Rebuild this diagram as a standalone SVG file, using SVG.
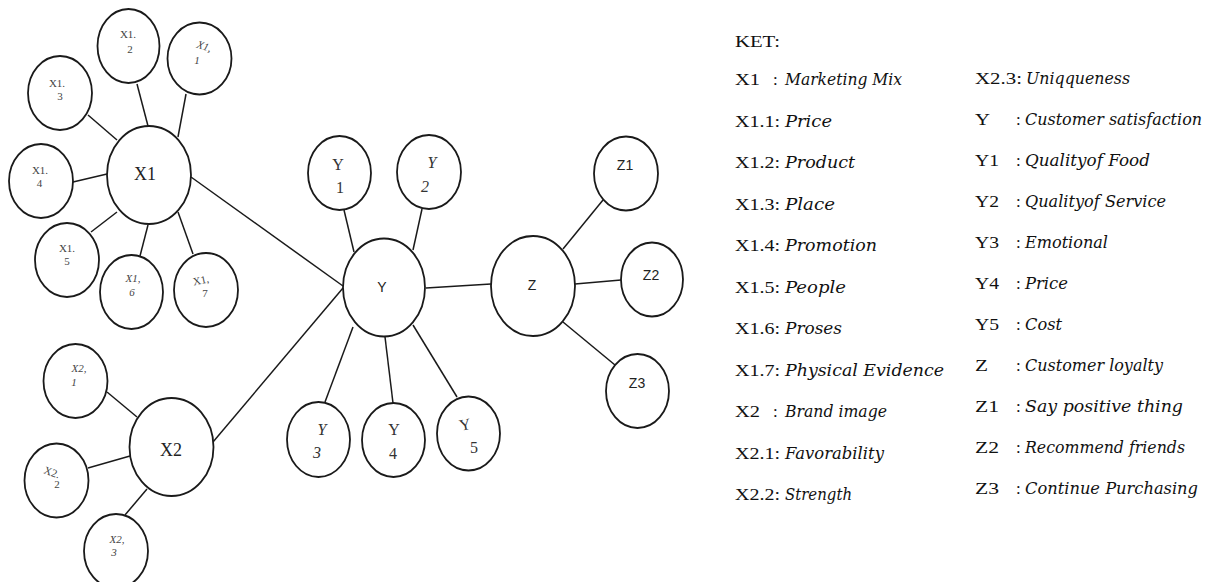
<svg xmlns="http://www.w3.org/2000/svg" width="1212" height="582" viewBox="0 0 1212 582">
<style>
.n{fill:#fff;stroke:#1a1a1a;stroke-width:1.8}
.c line{stroke:#1a1a1a;stroke-width:1.5}
.s{font-family:"Liberation Serif","Times New Roman",serif;font-size:11px;fill:#444;text-anchor:middle}
.si{font-family:"Liberation Serif","Times New Roman",serif;font-size:11px;fill:#444;text-anchor:middle;font-style:italic}
.big{font-family:"Liberation Serif","Times New Roman",serif;font-size:18px;fill:#222;text-anchor:middle}
.y{font-family:"Liberation Serif","Times New Roman",serif;font-size:16px;fill:#333;text-anchor:middle}
.yi{font-family:"Liberation Serif","Times New Roman",serif;font-size:16px;fill:#333;text-anchor:middle;font-style:italic}
.sn{font-family:"Liberation Sans",Arial,sans-serif;font-size:14px;fill:#222;text-anchor:middle}
.k{font-family:"Liberation Serif","Times New Roman",serif;font-size:17px;fill:#111}
.ki{font-family:"DejaVu Serif","Liberation Serif",serif;font-size:16px;fill:#111;font-style:italic}
</style>
<rect width="1212" height="582" fill="#fff"/>
<g id="connectors" class="c">
<line x1="88" y1="115" x2="117" y2="140"/>
<line x1="137" y1="84" x2="148" y2="126"/>
<line x1="186" y1="94" x2="178" y2="137"/>
<line x1="73" y1="182" x2="107" y2="174"/>
<line x1="91" y1="232" x2="117" y2="212"/>
<line x1="140" y1="256" x2="148" y2="225"/>
<line x1="193" y1="254" x2="178" y2="212"/>
<line x1="191" y1="177" x2="343" y2="286"/>
<line x1="107" y1="392" x2="137" y2="417"/>
<line x1="88" y1="468" x2="130" y2="456"/>
<line x1="125" y1="515" x2="147" y2="489"/>
<line x1="213" y1="442" x2="343" y2="288"/>
<line x1="344" y1="210" x2="354" y2="252"/>
<line x1="422" y1="209" x2="413" y2="250"/>
<line x1="426" y1="288" x2="491" y2="284"/>
<line x1="353" y1="327" x2="325" y2="402"/>
<line x1="385" y1="337" x2="393" y2="403"/>
<line x1="413" y1="325" x2="457" y2="397"/>
<line x1="563" y1="249" x2="603" y2="200"/>
<line x1="575" y1="284" x2="621" y2="280"/>
<line x1="563" y1="322" x2="615" y2="365"/>
</g>
<g id="X1"><ellipse class="n" cx="149" cy="175" rx="42" ry="49"/><text class="big" x="145" y="180">X1</text></g>
<g id="X1_1"><ellipse class="n" cx="199.5" cy="58.5" rx="32" ry="36"/><text class="si" x="204" y="50" transform="rotate(18 204 47)">X1,</text><text class="si" x="197" y="64">1</text></g>
<g id="X1_2"><ellipse class="n" cx="128.5" cy="46" rx="31" ry="37"/><text class="s" x="128" y="38">X1.</text><text class="s" x="130" y="53">2</text></g>
<g id="X1_3"><ellipse class="n" cx="60" cy="93" rx="32" ry="37"/><text class="s" x="57" y="87">X1.</text><text class="s" x="60" y="100">3</text></g>
<g id="X1_4"><ellipse class="n" cx="41" cy="181" rx="32" ry="37"/><text class="s" x="40" y="174">X1.</text><text class="s" x="39.5" y="187">4</text></g>
<g id="X1_5"><ellipse class="n" cx="67" cy="260" rx="32" ry="37"/><text class="s" x="67" y="252">X1.</text><text class="s" x="67" y="265">5</text></g>
<g id="X1_6"><ellipse class="n" cx="131.5" cy="292" rx="31.5" ry="37"/><text class="si" x="133" y="282">X1,</text><text class="si" x="132" y="296">6</text></g>
<g id="X1_7"><ellipse class="n" cx="206" cy="290" rx="32" ry="37"/><text class="s" x="201" y="284" transform="rotate(-12 201 281)">X1,</text><text class="s" x="205" y="297">7</text></g>
<g id="X2"><ellipse class="n" cx="171.5" cy="447" rx="42" ry="49"/><text class="big" x="171" y="456">X2</text></g>
<g id="X2_1"><ellipse class="n" cx="75.5" cy="381" rx="32" ry="37"/><text class="si" x="79" y="372">X2,</text><text class="si" x="74" y="386">1</text></g>
<g id="X2_2"><ellipse class="n" cx="56.5" cy="480.5" rx="32" ry="37"/><text class="s" x="52" y="476" transform="rotate(20 52 472)">X2.</text><text class="s" x="57" y="488">2</text></g>
<g id="X2_3"><ellipse class="n" cx="116" cy="551" rx="32" ry="37"/><text class="si" x="117" y="543">X2,</text><text class="si" x="114" y="556">3</text></g>
<g id="Y"><ellipse class="n" cx="384" cy="287.5" rx="41" ry="49"/><text class="sn" x="382" y="292">Y</text></g>
<g id="Y1"><ellipse class="n" cx="339.5" cy="173" rx="31.5" ry="37"/><text class="y" x="338" y="170">Y</text><text class="y" x="340" y="193">1</text></g>
<g id="Y2"><ellipse class="n" cx="429" cy="172" rx="32" ry="37"/><text class="yi" x="432" y="168">Y</text><text class="yi" x="425" y="192">2</text></g>
<g id="Y3"><ellipse class="n" cx="318.5" cy="439.5" rx="31.5" ry="37.5"/><text class="yi" x="322" y="435">Y</text><text class="yi" x="317" y="458">3</text></g>
<g id="Y4"><ellipse class="n" cx="393.5" cy="440" rx="31.5" ry="37"/><text class="y" x="394" y="435">Y</text><text class="y" x="393" y="459">4</text></g>
<g id="Y5"><ellipse class="n" cx="468.5" cy="433.5" rx="31.5" ry="37"/><text class="y" x="465" y="430" transform="rotate(-12 465 425)">Y</text><text class="y" x="474" y="453">5</text></g>
<g id="Z"><ellipse class="n" cx="533" cy="286" rx="42" ry="50"/><text class="sn" x="532" y="290">Z</text></g>
<g id="Z1"><ellipse class="n" cx="626" cy="173.5" rx="32" ry="37"/><text class="sn" x="625" y="170">Z1</text></g>
<g id="Z2"><ellipse class="n" cx="652" cy="279.5" rx="31" ry="37"/><text class="sn" x="651" y="280">Z2</text></g>
<g id="Z3"><ellipse class="n" cx="637.5" cy="391" rx="31.5" ry="37"/><text class="sn" x="637" y="388">Z3</text></g>
<g id="legend">
<text class="k" x="735" y="47" textLength="45" lengthAdjust="spacingAndGlyphs">KET:</text>
<text class="k" x="735" y="85" textLength="25" lengthAdjust="spacingAndGlyphs">X1</text><text class="k" x="773" y="85">:</text><text class="ki" x="785" y="85" textLength="117" lengthAdjust="spacingAndGlyphs">Marketing Mix</text>
<text class="k" x="735" y="126.5" textLength="45" lengthAdjust="spacingAndGlyphs">X1.1:</text><text class="ki" x="785" y="126.5" textLength="47" lengthAdjust="spacingAndGlyphs">Price</text>
<text class="k" x="735" y="168" textLength="45" lengthAdjust="spacingAndGlyphs">X1.2:</text><text class="ki" x="785" y="168" textLength="70" lengthAdjust="spacingAndGlyphs">Product</text>
<text class="k" x="735" y="209.5" textLength="45" lengthAdjust="spacingAndGlyphs">X1.3:</text><text class="ki" x="785" y="209.5" textLength="50" lengthAdjust="spacingAndGlyphs">Place</text>
<text class="k" x="735" y="251" textLength="45" lengthAdjust="spacingAndGlyphs">X1.4:</text><text class="ki" x="785" y="251" textLength="92" lengthAdjust="spacingAndGlyphs">Promotion</text>
<text class="k" x="735" y="293" textLength="45" lengthAdjust="spacingAndGlyphs">X1.5:</text><text class="ki" x="785" y="293" textLength="61" lengthAdjust="spacingAndGlyphs">People</text>
<text class="k" x="735" y="334" textLength="45" lengthAdjust="spacingAndGlyphs">X1.6:</text><text class="ki" x="785" y="334" textLength="57" lengthAdjust="spacingAndGlyphs">Proses</text>
<text class="k" x="735" y="375.5" textLength="45" lengthAdjust="spacingAndGlyphs">X1.7:</text><text class="ki" x="785" y="375.5" textLength="159" lengthAdjust="spacingAndGlyphs">Physical Evidence</text>
<text class="k" x="735" y="417" textLength="25" lengthAdjust="spacingAndGlyphs">X2</text><text class="k" x="773" y="417">:</text><text class="ki" x="785" y="417" textLength="102" lengthAdjust="spacingAndGlyphs">Brand image</text>
<text class="k" x="735" y="458.5" textLength="45" lengthAdjust="spacingAndGlyphs">X2.1:</text><text class="ki" x="785" y="458.5" textLength="99" lengthAdjust="spacingAndGlyphs">Favorability</text>
<text class="k" x="735" y="500" textLength="45" lengthAdjust="spacingAndGlyphs">X2.2:</text><text class="ki" x="785" y="500" textLength="67" lengthAdjust="spacingAndGlyphs">Strength</text>
<text class="k" x="975" y="84" textLength="47" lengthAdjust="spacingAndGlyphs">X2.3:</text><text class="ki" x="1026" y="84" textLength="104" lengthAdjust="spacingAndGlyphs">Uniqqueness</text>
<text class="k" x="975" y="125" textLength="15" lengthAdjust="spacingAndGlyphs">Y</text><text class="k" x="1016" y="125">:</text><text class="ki" x="1025" y="125" textLength="177" lengthAdjust="spacingAndGlyphs">Customer satisfaction</text>
<text class="k" x="975" y="166" textLength="24" lengthAdjust="spacingAndGlyphs">Y1</text><text class="k" x="1016" y="166">:</text><text class="ki" x="1025" y="166" textLength="125" lengthAdjust="spacingAndGlyphs">Qualityof Food</text>
<text class="k" x="975" y="207" textLength="24" lengthAdjust="spacingAndGlyphs">Y2</text><text class="k" x="1016" y="207">:</text><text class="ki" x="1025" y="207" textLength="141" lengthAdjust="spacingAndGlyphs">Qualityof Service</text>
<text class="k" x="975" y="248" textLength="24" lengthAdjust="spacingAndGlyphs">Y3</text><text class="k" x="1016" y="248">:</text><text class="ki" x="1025" y="248" textLength="83" lengthAdjust="spacingAndGlyphs">Emotional</text>
<text class="k" x="975" y="289" textLength="24" lengthAdjust="spacingAndGlyphs">Y4</text><text class="k" x="1016" y="289">:</text><text class="ki" x="1025" y="289" textLength="43" lengthAdjust="spacingAndGlyphs">Price</text>
<text class="k" x="975" y="330" textLength="24" lengthAdjust="spacingAndGlyphs">Y5</text><text class="k" x="1016" y="330">:</text><text class="ki" x="1025" y="330" textLength="37" lengthAdjust="spacingAndGlyphs">Cost</text>
<text class="k" x="975" y="371" textLength="13" lengthAdjust="spacingAndGlyphs">Z</text><text class="k" x="1016" y="371">:</text><text class="ki" x="1025" y="371" textLength="138" lengthAdjust="spacingAndGlyphs">Customer loyalty</text>
<text class="k" x="975" y="412" textLength="24" lengthAdjust="spacingAndGlyphs">Z1</text><text class="k" x="1016" y="412">:</text><text class="ki" x="1025" y="412" textLength="158" lengthAdjust="spacingAndGlyphs">Say positive thing</text>
<text class="k" x="975" y="453" textLength="24" lengthAdjust="spacingAndGlyphs">Z2</text><text class="k" x="1016" y="453">:</text><text class="ki" x="1025" y="453" textLength="160" lengthAdjust="spacingAndGlyphs">Recommend friends</text>
<text class="k" x="975" y="494" textLength="24" lengthAdjust="spacingAndGlyphs">Z3</text><text class="k" x="1016" y="494">:</text><text class="ki" x="1025" y="494" textLength="173" lengthAdjust="spacingAndGlyphs">Continue Purchasing</text>
</g>
</svg>
